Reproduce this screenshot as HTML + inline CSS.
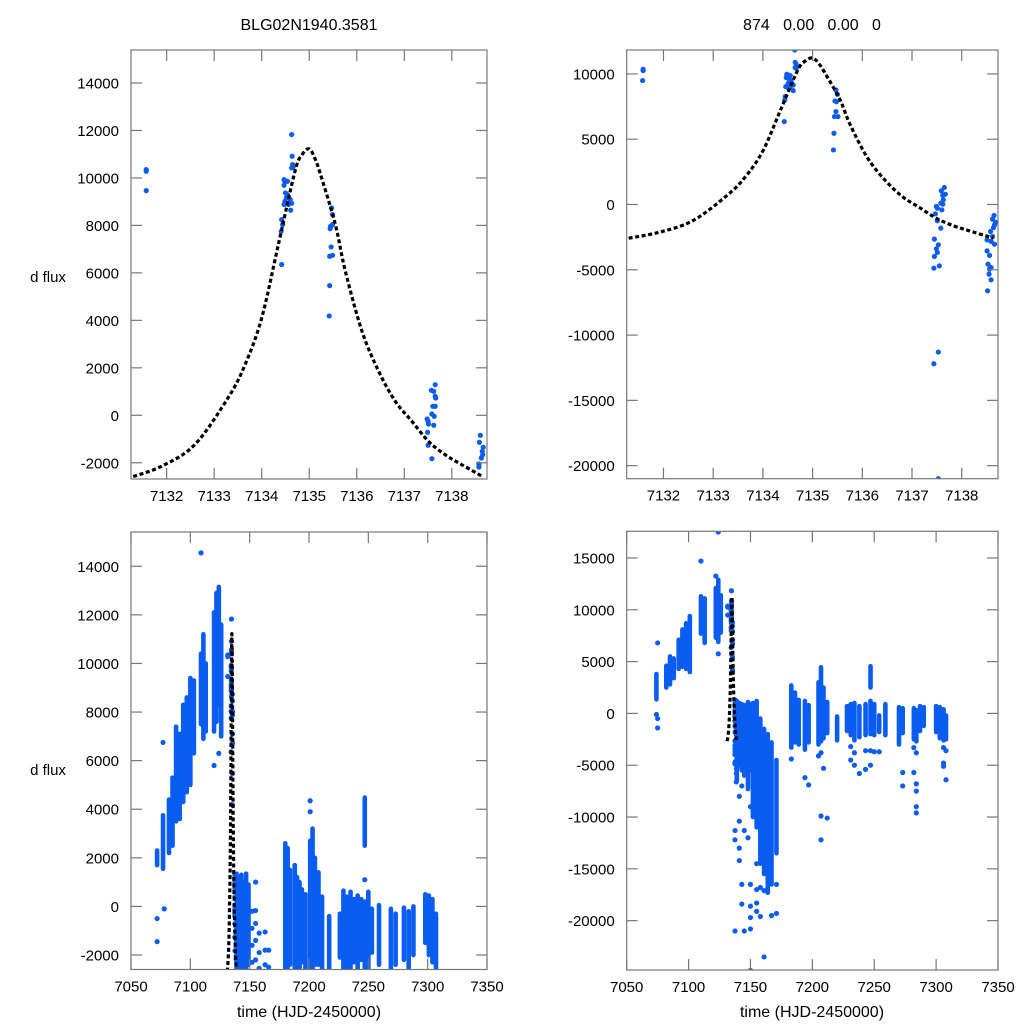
<!DOCTYPE html>
<html><head><meta charset="utf-8"><style>
html,body{margin:0;padding:0;background:#fff;}
svg{display:block;font-family:"Liberation Sans",sans-serif;}
</style></head><body>
<svg id="fig" width="1024" height="1024" viewBox="0 0 1024 1024">
<text x="309" y="30" font-size="16" text-anchor="middle">BLG02N1940.3581</text>
<text x="812" y="30" font-size="16" text-anchor="middle" xml:space="preserve">874   0.00   0.00   0</text>
<text x="48" y="282" font-size="15" text-anchor="middle">d flux</text>
<text x="48" y="775" font-size="15" text-anchor="middle">d flux</text>
<text x="309" y="1017" font-size="16" text-anchor="middle">time (HJD-2450000)</text>
<text x="812" y="1017" font-size="16" text-anchor="middle">time (HJD-2450000)</text>
</svg>
<script>
// ---- model curve (sampled) ----
const curveT=[7131.2,7131.25,7131.89,7132.59,7133.29,7133.65,7134.0,7134.35,7134.7,7134.85,7135.0,7135.13,7135.26,7135.55,7135.76,7136.11,7136.46,7136.81,7137.16,7137.51,7137.86,7138.21,7138.64];
const curveF=[-2680,-2613,-2149,-1240,730,2133,4100,7190,10280,10982,11222,10771,10000,8033,6068,3540,1855,590,-253,-1100,-1662,-2082,-2571];

// ---- left dataset: detailed points ----
const leftPtT=[7131.57,7131.57,7131.57,7134.63,7134.64,7134.65,7134.66,7134.63,7134.47,7134.49,7134.54,7134.47,7134.5,7134.54,7134.52,7134.49,7134.6,7134.63,7134.56,7134.47,7134.61,7134.42,7134.44,7134.41,7134.42,7135.47,7135.49,7135.45,7135.44,7135.49,7135.46,7135.43,7135.49,7135.43,7135.42,7137.65,7137.57,7137.62,7137.65,7137.66,7137.6,7137.65,7137.58,7137.63,7137.48,7137.5,7137.51,7137.62,7137.49,7137.5,7137.58,7138.6,7138.58,7138.66,7138.64,7138.65,7138.62,7138.57,7138.57,
7072,7072,7077,7078,7109,7120,7124,7152,7152,7152,7152,7155,7155,7155,7155,7155,7158,7158,7158,7163,7163,7163,7166,7166,7201,7201,7247];
const leftPtF=[10350,10282,9466,11826,10914,10560,10450,10420,9929,9830,9860,9690,9368,9300,9165,9020,9090,8930,8880,8880,8640,8243,8033,7750,6350,8736,8455,7965,7864,8033,7093,6700,6740,5462,4185,1290,1053,1011,800,729,379,379,55,-42,-155,-253,-366,-421,-716,-1264,-1828,-843,-1138,-1349,-1517,-1660,-1799,-2052,-2179,
-500,-1450,6750,-100,14550,5800,6300,-200,-900,-1600,-2300,1000,-170,-700,-1400,-2200,-1100,-1900,-2550,-1050,-1800,-2400,-1800,-2500,4350,3900,1100];
// ---- left dataset: nightly flux ranges ----
const leftRngT=[7072,7077,7082,7085,7088,7091,7094,7097,7100,7103,7109,7111,7113,7120,7122,7124,7126,7139,7141,7143,7145,7147,7149,7180,7182,7184,7188,7190,7192,7194,7197,7201,7203,7205,7208,7211,7217,7226,7229,7232,7235,7238,7241,7244,7247,7247,7250,7253,7259,7269,7273,7280,7284,7288,7298,7301,7304,7307];
const leftRngHi=[2300,3750,4400,5300,7400,7100,8300,8600,9400,9300,10400,11200,10000,12100,12900,13150,11600,1350,1200,1300,1000,1350,900,2600,2400,1500,1700,1200,1000,700,500,2700,3200,2000,1400,400,-400,-300,650,400,600,300,450,300,4480,200,600,-100,50,-100,-300,-50,-200,0,500,450,300,-300];
const leftRngLo=[1700,1550,2200,2500,3500,3600,4300,4700,5000,6300,7500,6900,7200,7200,7600,8300,7000,-2600,-2600,-2600,-2600,-2600,-2400,-2600,-2600,-2400,-2600,-2600,-2600,-2300,-2600,-2600,-2600,-2400,-2400,-2600,-2600,-2100,-2600,-2600,-2600,-2300,-2600,-2200,2500,-2600,-2600,-1900,-2400,-2600,-2400,-2200,-2600,-2000,-1500,-2000,-2300,-2600];

// ---- right dataset: detailed points ----
const rightPtT=[7131.59,7131.59,7131.58,7134.64,7134.65,7134.67,7134.65,7134.67,7134.48,7134.51,7134.55,7134.47,7134.54,7134.57,7134.51,7134.61,7134.46,7134.54,7134.61,7134.51,7134.45,7134.44,7134.43,7135.47,7135.5,7135.45,7135.48,7135.44,7135.51,7135.47,7135.43,7135.42,7137.65,7137.59,7137.67,7137.62,7137.63,7137.58,7137.62,7137.49,7137.51,7137.6,7137.47,7137.51,7137.58,7137.45,7137.53,7137.49,7137.51,7137.45,7137.55,7137.44,7137.53,7137.44,7137.53,7138.65,7138.62,7138.68,7138.66,7138.64,7138.58,7138.62,7138.51,7138.59,7138.66,7138.51,7138.56,7138.53,7138.59,7138.56,7138.55,7138.59,7138.52,
7074,7075,7075,7075,7110,7122,7124,7124,7141,7141,7141,7141,7143,7143,7143,7145,7145,7148,7150,7150,7150,7150,7150,7150,7155,7155,7155,7155,7158,7158,7161,7161,7167,7171,7171,7183,7194,7197,7205,7207,7207,7207,7209,7212,7231,7231,7234,7234,7238,7243,7243,7247,7247,7250,7254,7273,7273,7282,7282,7284,7284,7284,7284,7284,7306,7306,7306,7308,7308];
const rightPtF=[10355,10255,9490,11833,10890,10737,10484,10433,9972,9920,9870,9719,9536,9413,9283,9153,9030,8955,8724,8902,8265,8005,6352,8770,8441,7930,7880,6734,6734,7117,5457,4178,1300,1043,790,689,356,102,25,-153,-281,-408,-714,-1250,-1812,-2653,-3087,-3393,-3674,-3980,-4697,-4873,-11303,-12196,-21000,-842,-1125,-1355,-1559,-1760,-2066,-2449,-2709,-2832,-3038,-3551,-3903,-4569,-4821,-4950,-5334,-5770,-6612,
-100,6800,-500,-1400,14700,13250,17500,5750,-8000,-10400,-13000,-14200,-7000,-16500,-18400,-11300,-21000,-12000,-9000,-16500,-18600,-19700,-20800,-24800,-14500,-17000,-18300,-19100,-16800,-19600,-17100,-23500,-19500,-16500,-19300,-4400,-6200,-6900,-4100,-3800,-9900,-12200,-5300,-10100,-3200,-4500,-3800,-5000,-5800,-3600,-5400,-3600,-5000,-3700,-3700,-5700,-7000,-3300,-5700,-3800,-6800,-7500,-9000,-9600,-3300,-4800,-5100,-3600,-6400];
// ---- right dataset: nightly flux ranges ----
const rightRngT=[7074,7082,7085,7088,7092,7095,7098,7101,7110,7113,7122,7124,7126,7139,7141,7143,7145,7148,7150,7152,7155,7158,7161,7164,7167,7171,7183,7186,7189,7194,7197,7205,7207,7209,7212,7220,7228,7231,7234,7238,7243,7247,7247,7250,7254,7259,7270,7273,7282,7284,7287,7290,7300,7303,7306,7308];
const rightRngHi=[3800,4600,5500,5300,7100,8100,8700,9400,11300,11100,12100,12900,11400,1200,1000,900,800,1100,900,1000,1200,-500,-1500,-2000,-2800,-4500,2700,2000,1300,1200,800,3000,4450,2500,1100,-300,700,900,1000,700,900,4550,1200,900,-200,900,600,500,500,300,700,600,700,600,400,-200];
const rightRngLo=[1350,2500,2800,3400,4300,4500,4300,4000,7700,6800,7300,6900,7800,-6500,-5000,-5500,-6000,-7300,-5500,-10000,-11000,-14500,-15500,-17300,-16500,-13500,-3300,-2800,-3000,-3500,-2800,-3000,-2700,-2400,-1900,-2600,-1700,-2100,-2600,-2300,-2100,2500,-2000,-2100,-1800,-2100,-3000,-1900,-2500,-2700,-1700,-1200,-1800,-2400,-2600,-2500];

// ---- tick labels ----
const tlXTicks=[7132,7133,7134,7135,7136,7137,7138];
const tlYTicks=[14000,12000,10000,8000,6000,4000,2000,0,-2000];
const trYTicks=[10000,5000,0,-5000,-10000,-15000,-20000];
const blXTicks=[7050,7100,7150,7200,7250,7300,7350];
const blYTicks=[14000,12000,10000,8000,6000,4000,2000,0,-2000];
const brYTicks=[15000,10000,5000,0,-5000,-10000,-15000,-20000];

const NS="http://www.w3.org/2000/svg";
const svg=document.getElementById('fig');
const DOT='#0b5cf0';
function mk(tag,attrs,parent){const e=document.createElementNS(NS,tag);for(const k in attrs)e.setAttribute(k,attrs[k]);(parent||svg).appendChild(e);return e;}
function smoothPath(P){
  let d='M'+P[0][0].toFixed(2)+','+P[0][1].toFixed(2);
  for(let i=0;i<P.length-1;i++){
    const p0=P[Math.max(0,i-1)],p1=P[i],p2=P[i+1],p3=P[Math.min(P.length-1,i+2)];
    const c1=[p1[0]+(p2[0]-p0[0])/6,p1[1]+(p2[1]-p0[1])/6];
    const c2=[p2[0]-(p3[0]-p1[0])/6,p2[1]-(p3[1]-p1[1])/6];
    d+=' C'+c1.map(v=>v.toFixed(2)).join(',')+' '+c2.map(v=>v.toFixed(2)).join(',')+' '+p2[0].toFixed(2)+','+p2[1].toFixed(2);
  }
  return d;
}

function panel(id,box,xd,yd,xt,yt,ptT,ptF,rT,rHi,rLo){
  const sx=t=>box.x0+(t-xd[0])/(xd[1]-xd[0])*(box.x1-box.x0);
  const sy=f=>box.y1-(f-yd[0])/(yd[1]-yd[0])*(box.y1-box.y0);
  const g=mk('g',{});
  
  
  const cp=mk('clipPath',{id:id+'-clip'},g);
  mk('rect',{x:box.x0,y:box.y0,width:box.x1-box.x0,height:box.y1-box.y0},cp);
  const data=mk('g',{'clip-path':'url(#'+id+'-clip)'},g);
  
  
  for(let i=0;i<rT.length;i++){
    const l=mk('line',{x1:sx(rT[i]),x2:sx(rT[i]),y1:sy(rHi[i]),y2:sy(rLo[i]),stroke:DOT,'stroke-width':4.6,'stroke-linecap':'round'},data);
    
    
  }
  for(let i=0;i<ptT.length;i++){
    const c=mk('circle',{cx:sx(ptT[i]),cy:sy(ptF[i]),r:2.6,fill:DOT},data);
    
    
  }
  const P=curveT.map((t,i)=>[sx(t),sy(curveF[i])]);
  const pl=mk('path',{d:smoothPath(P),fill:'none',stroke:'#000','stroke-width':3.2,'stroke-dasharray':'4,2.6'},data);
  
  
  const fr=mk('rect',{x:box.x0,y:box.y0,width:box.x1-box.x0,height:box.y1-box.y0,fill:'none',stroke:'#777','stroke-width':1.2},g);
  
  
  const TL=11;
  xt.forEach(v=>{const x=sx(v);
    mk('line',{x1:x,x2:x,y1:box.y0,y2:box.y0+TL,stroke:'#777','stroke-width':1.2},g);
    mk('line',{x1:x,x2:x,y1:box.y1,y2:box.y1-TL,stroke:'#777','stroke-width':1.2},g);
    const t=mk('text',{x:x,y:box.y1+22,'font-size':15,'text-anchor':'middle'},g);t.textContent=v;
    
    
  });
  yt.forEach(v=>{const y=sy(v);
    mk('line',{x1:box.x0,x2:box.x0+TL,y1:y,y2:y,stroke:'#777','stroke-width':1.2},g);
    mk('line',{x1:box.x1,x2:box.x1-TL,y1:y,y2:y,stroke:'#777','stroke-width':1.2},g);
    const t=mk('text',{x:box.x0-12,y:y+5.5,'font-size':15,'text-anchor':'end'},g);t.textContent=v;
    
    
  });
}
panel('top-left',{x0:131,x1:487,y0:50,y1:479},[7131.25,7138.74],[-2684,15390],tlXTicks,tlYTicks,leftPtT,leftPtF,leftRngT,leftRngHi,leftRngLo);
panel('top-right',{x0:626.7,x1:998,y0:50,y1:478.7},[7131.26,7138.73],[-21000,11832],tlXTicks,trYTicks,rightPtT,rightPtF,rightRngT,rightRngHi,rightRngLo);
panel('bottom-left',{x0:131,x1:487,y0:532,y1:969.5},[7050,7350],[-2596,15410],blXTicks,blYTicks,leftPtT,leftPtF,leftRngT,leftRngHi,leftRngLo);
panel('bottom-right',{x0:626.7,x1:998,y0:531.3,y1:970},[7050,7350],[-24760,17572],blXTicks,brYTicks,rightPtT,rightPtF,rightRngT,rightRngHi,rightRngLo);
</script>
</body></html>
